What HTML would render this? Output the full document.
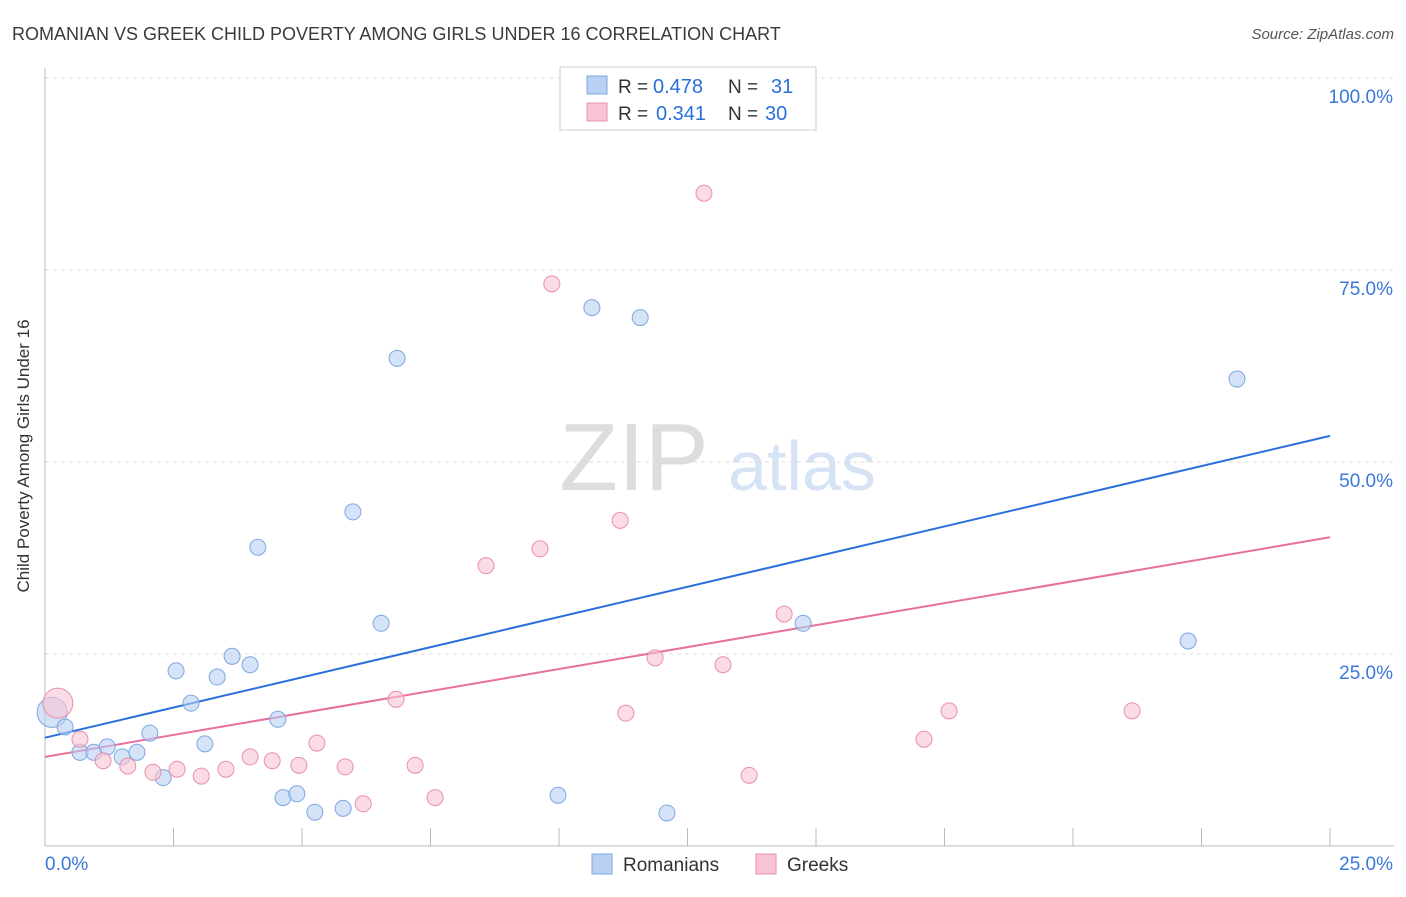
<!DOCTYPE html>
<html><head><meta charset="utf-8"><style>
body{margin:0;background:#fff;font-family:"Liberation Sans",sans-serif;}
svg text{font-family:"Liberation Sans",sans-serif;}
</style></head><body>
<svg id="chart" width="1406" height="892" xmlns="http://www.w3.org/2000/svg">
<text x="12" y="40" font-size="18" fill="#3a3a3a">ROMANIAN VS GREEK CHILD POVERTY AMONG GIRLS UNDER 16 CORRELATION CHART</text>
<text x="1394" y="39" font-size="15" fill="#555" text-anchor="end" font-style="italic">Source: ZipAtlas.com</text>
<text x="29" y="456" font-size="17" fill="#333" text-anchor="middle" transform="rotate(-90 29 456)">Child Poverty Among Girls Under 16</text>
<g>
<text x="634" y="490" font-size="96" fill="#ddd" text-anchor="middle" font-family="Liberation Serif">ZIP</text>
<text x="802" y="490" font-size="70" fill="#d5e3f5" text-anchor="middle">atlas</text>
</g>
<g id="grid"></g><g id="axes"></g><g id="lines"></g><g id="points"></g>
<g>
<rect x="560" y="67" width="256" height="63" fill="#fff" stroke="#ccc"/>
<rect x="587" y="76" width="20" height="18" fill="#b7d0f4" stroke="#7fa6e0"/>
<text x="618" y="93" font-size="19" fill="#333">R =</text>
<text x="653" y="93" font-size="20" fill="#2a6fdb">0.478</text>
<text x="728" y="93" font-size="19" fill="#333">N =</text>
<text x="771" y="93" font-size="20" fill="#2a6fdb">31</text>
<rect x="587" y="103" width="20" height="18" fill="#f8c4d3" stroke="#e890ac"/>
<text x="618" y="120" font-size="19" fill="#333">R =</text>
<text x="656" y="120" font-size="20" fill="#2a6fdb">0.341</text>
<text x="728" y="120" font-size="19" fill="#333">N =</text>
<text x="765" y="120" font-size="20" fill="#2a6fdb">30</text>
</g>
<g>
<rect x="592" y="854" width="20" height="20" fill="#b7d0f4" stroke="#7fa6e0"/>
<text x="623" y="871" font-size="19" fill="#333">Romanians</text>
<rect x="756" y="854" width="20" height="20" fill="#f8c4d3" stroke="#e890ac"/>
<text x="787" y="871" font-size="19" fill="#333">Greeks</text>
</g>
</svg>
<script>
const xTicks=[0,2.5,5,7.5,10,12.5,15,17.5,20,22.5,25];
const yTicks=[25,50,75,100];
const yTickLabels=["25.0%","50.0%","75.0%","100.0%"];
const romX=[0.14,0.39,0.68,0.95,1.21,1.50,1.79,2.04,2.30,2.55,2.84,3.11,3.35,3.64,3.99,4.14,4.53,4.63,4.90,5.25,5.80,5.99,6.54,6.85,9.98,10.64,11.58,12.10,14.75,22.24,23.19];
const romY=[17.4,15.5,12.2,12.2,12.9,11.6,12.2,14.7,8.9,22.8,18.6,13.3,22.0,24.7,23.6,38.9,16.5,6.3,6.8,4.4,4.9,43.5,29.0,63.5,6.6,70.1,68.8,4.3,29.0,26.7,60.8];
const grkX=[0.25,0.68,1.13,1.61,2.10,2.57,3.04,3.52,3.99,4.42,4.94,5.29,5.84,6.19,6.83,7.20,7.59,8.58,9.63,9.86,11.19,11.30,11.87,12.82,13.19,13.70,14.38,17.10,17.59,21.15];
const grkY=[18.6,13.9,11.1,10.4,9.6,10.0,9.1,10.0,11.6,11.1,10.5,13.4,10.3,5.5,19.1,10.5,6.3,36.5,38.7,73.2,42.4,17.3,24.5,85.0,23.6,9.2,30.2,13.9,17.6,17.6];
const romLine=[14.1,53.4];
const grkLine=[11.6,40.2];
const NS="http://www.w3.org/2000/svg";
const X=v=>45+v/25*1285, Y=v=>846-v/25*192;
function mk(t,a,p){const e=document.createElementNS(NS,t);for(const k in a)e.setAttribute(k,a[k]);p.appendChild(e);return e;}
const grid=document.getElementById('grid'),axes=document.getElementById('axes');
yTicks.forEach((t,i)=>{
 const l=mk('line',{x1:45,x2:1394,y1:Y(t),y2:Y(t),stroke:'#ddd','stroke-dasharray':'4,4'},grid);
 
 
 const tx=mk('text',{x:1393,y:Y(t)+25,'font-size':19,fill:'#3a78d8','text-anchor':'end'},axes);
 tx.textContent=yTickLabels[i];
 
 
});
const ya=mk('line',{x1:45,x2:45,y1:68,y2:846,stroke:'#bbb'},axes);


const xa=mk('line',{x1:45,x2:1394,y1:846,y2:846,stroke:'#bbb'},axes);


xTicks.forEach(t=>{const l=mk('line',{x1:X(t),x2:X(t),y1:828,y2:846,stroke:'#bbb'},axes);
 
 });
[["0.0%",45,'start'],["25.0%",1393,'end']].forEach(d=>{const t=mk('text',{x:d[1],y:870,'font-size':19,fill:'#3a78d8','text-anchor':d[2]},axes);t.textContent=d[0];
 
 });
const pts=document.getElementById('points');
function series(xs,ys,fill,stroke,name){xs.forEach((x,i)=>{const r=i===0?15:8;
 const c=mk('circle',{cx:X(x),cy:Y(ys[i]),r:r,fill:fill,'fill-opacity':0.6,stroke:stroke,'stroke-width':1},pts);
 
 });}
series(romX,romY,'#b7d0f4','#7fa6e0','romanian-point');
series(grkX,grkY,'#f8c4d3','#e890ac','greek-point');
const lines=document.getElementById('lines');
const bl=mk('line',{x1:X(0),y1:Y(romLine[0]),x2:X(25),y2:Y(romLine[1]),stroke:'#2a6fdb','stroke-width':2},lines);


const pl=mk('line',{x1:X(0),y1:Y(grkLine[0]),x2:X(25),y2:Y(grkLine[1]),stroke:'#e8709a','stroke-width':2},lines);


</script>
</body></html>
